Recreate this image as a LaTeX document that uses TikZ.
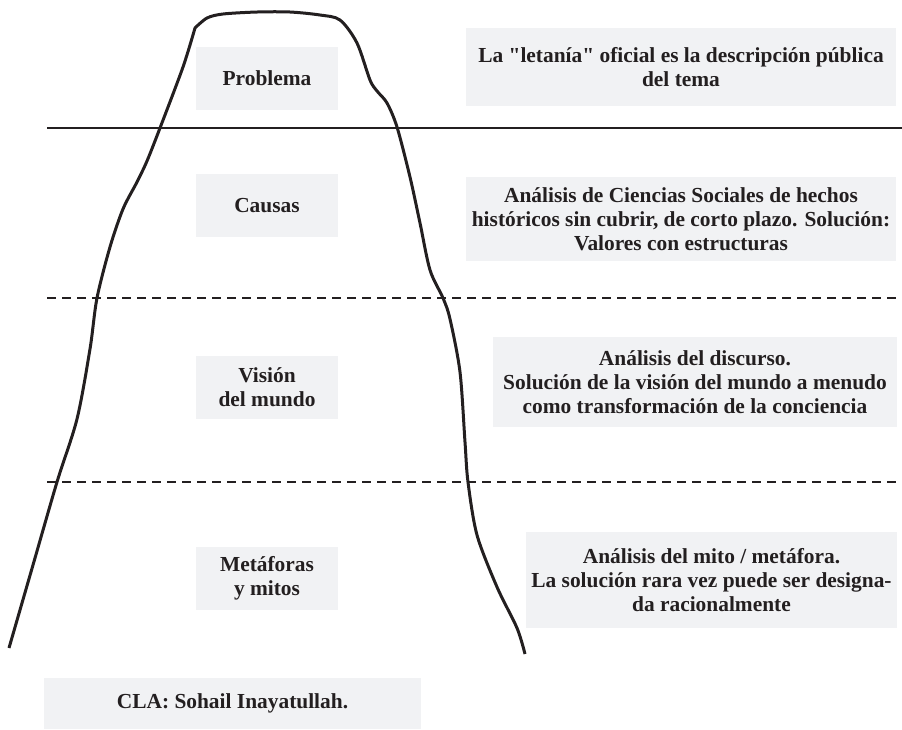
\documentclass[tikz,border=0pt]{standalone}
\usepackage{fontspec}
\setmainfont{Liberation Serif}
\newfontfamily\recta{Liberation Serif}
\usepackage{xcolor}
\usetikzlibrary{positioning}
\definecolor{tinta}{HTML}{231F20}
\definecolor{niebla}{HTML}{F1F2F4}

\begin{document}
\begin{tikzpicture}[x=0.5pt, y=-0.5pt,
  caja/.style={fill=niebla, inner sep=0pt, align=center, text=tinta, font=\fontsize{10.7}{12}\selectfont\bfseries},
  nivel/.style={caja, minimum width=71pt, minimum height=31.5pt},
  nota/.style={caja, minimum height=#1},
  borde/.style={draw=tinta, line width=0.65pt},
  corte/.style={draw=tinta, line width=0.75pt, dash pattern=on 4.5pt off 3pt},
  iceberg/.style={draw=tinta, line width=1.5pt, line join=round}
]
\useasboundingbox (0,0) rectangle (902,730);

% niveles del iceberg
\node[nivel] (problema) at (267,78) {Problema};
\node[nivel] (causas) at (267,205.5) {Causas};
\node[nivel] (vision) at (267,387.5) {Visión\\del mundo};
\node[nivel] (metaforas) at (267,578.5) {Metáforas\\y mitos};

% descripciones
\node[nota=39pt, minimum width=215pt] (letania) at (681,67) {La {\recta"}letanía{\recta"} oficial es la descripción pública\\del tema};
\node[nota=42pt, minimum width=215pt] (sociales) at (681,219) {Análisis de Ciencias Sociales de hechos\\históricos sin cubrir, de corto plazo. Solución:\\Valores con estructuras};
\node[nota=45pt, minimum width=202pt] (discurso) at (695,382) {Análisis del discurso.\\Solución de la visión del mundo a menudo\\como transformación de la conciencia};
\node[nota=48pt, minimum width=185.5pt] (mito) at (711.5,580) {Análisis del mito / metáfora.\\La solución rara vez puede ser designa-\\da racionalmente};
\node[nota=25.5pt, minimum width=188.5pt] (cla) at (232.5,703.5) {CLA: Sohail Inayatullah.};

% línea de flotación y cortes
\coordinate (flotI) at (47,128);
\coordinate (flotD) at (902,128);
\coordinate (corte1I) at (47,298);
\coordinate (corte1D) at (902,298);
\coordinate (corte2I) at (47,482);
\coordinate (corte2D) at (902,482);
\draw[borde] (flotI) -- (flotD);
\draw[corte] (corte1I) -- (corte1D);
\draw[corte] (corte2I) -- (corte2D);

% contorno
\draw[iceberg] plot[smooth, tension=0.5] coordinates {(9,648) (33,565) (57,482) (77,419) (90,349) (97,298) (110,247) (123,209) (137,182) (147,161) (160,128) (183,67) (195,28)}
  -- plot[smooth, tension=0.5] coordinates {(195,28) (207,18) (223,14) (257,12) (290,12) (320,15) (340,20) (357,43) (370,80) (377,91) (387,103) (397,127) (410,177) (420,223) (430,270) (443,298) (450,319) (460,372) (465,442) (468,482) (477,535) (497,587) (517,628) (525,654)};
\end{tikzpicture}
\end{document}
